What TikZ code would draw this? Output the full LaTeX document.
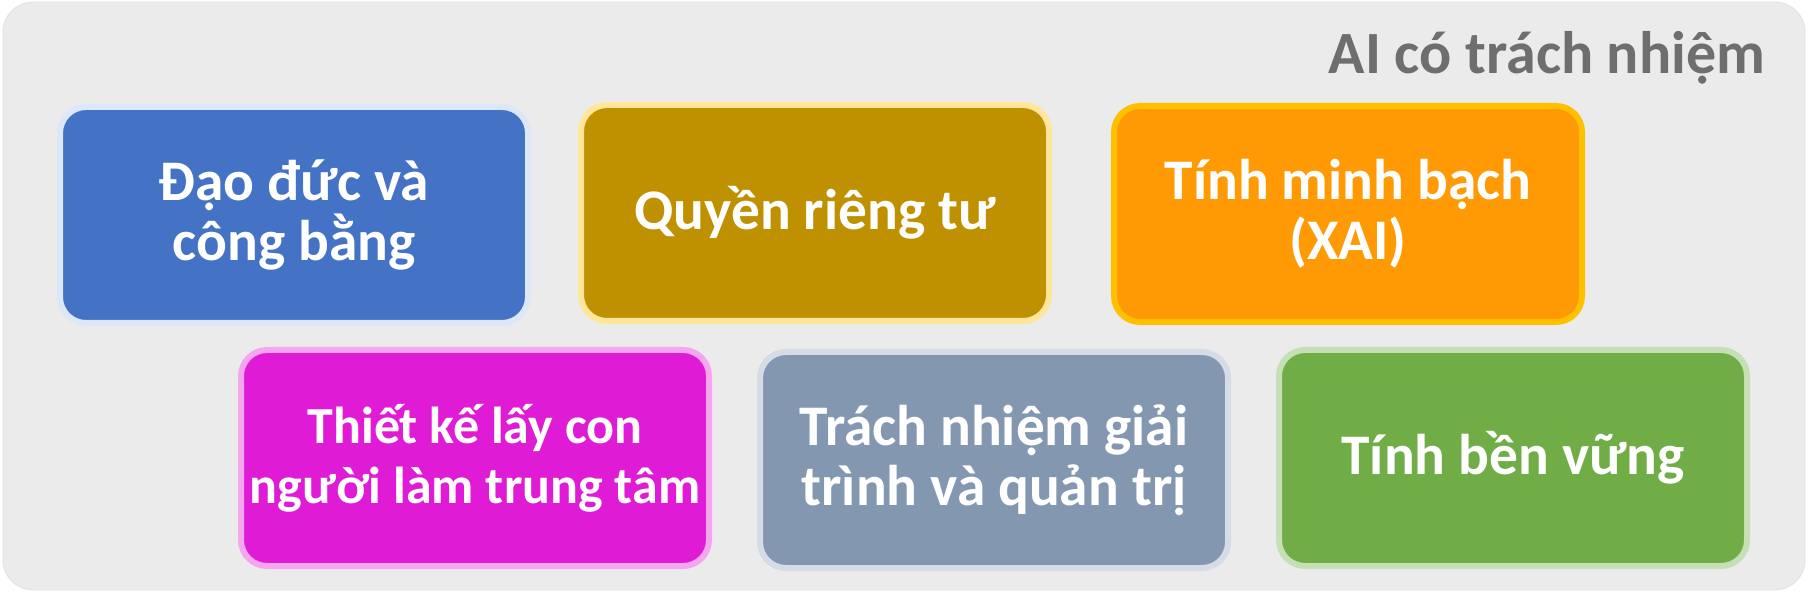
\documentclass[tikz,border=0pt]{standalone}
\usepackage{fontspec}
\setmainfont{Carlito}
\usepackage{xcolor}
\usepackage{tikz}

\definecolor{panelGray}{HTML}{EBEBEB}
\definecolor{panelEdge}{HTML}{E2E2E2}
\definecolor{titleGray}{HTML}{6E6E6E}
\definecolor{ethicsFill}{HTML}{4472C4}  \definecolor{ethicsEdge}{HTML}{DCE8F7}
\definecolor{privFill}{HTML}{BF9000}    \definecolor{privEdge}{HTML}{FFE699}
\definecolor{xaiFill}{HTML}{FF9A05}     \definecolor{xaiEdge}{HTML}{FFC000}
\definecolor{humanFill}{HTML}{E01BD6}   \definecolor{humanEdge}{HTML}{F6A6EF}
\definecolor{govFill}{HTML}{8497B0}     \definecolor{govEdge}{HTML}{D6DCE5}
\definecolor{sustFill}{HTML}{70AD47}    \definecolor{sustEdge}{HTML}{C5E0B4}

\tikzset{
	pillar/.style={rounded corners=13pt, line width=3pt, minimum width=234pt, minimum height=108pt,
		inner sep=0pt, align=center, text=white, font=\fontsize{28.7}{30}\selectfont\bfseries},
	pillar small/.style={pillar, font=\fontsize{26}{30}\selectfont\bfseries},
}

\begin{document}
\begin{tikzpicture}[x=1pt,y=-1pt]
	\useasboundingbox (0,0) rectangle (904,296);
	\fill[white] (0,0) rectangle (904,296);
	\filldraw[fill=panelGray, draw=panelEdge, rounded corners=15pt] (1.5,1) rectangle (902.5,295);

	\node[anchor=base east, text=titleGray, font=\fontsize{30}{34}\selectfont\bfseries] (title) at (886,37) {AI có trách nhiệm};

	\node[pillar, fill=ethicsFill, draw=ethicsEdge] (ethics)  at (147,107.5) {Đạo đức và\\công bằng};
	\node[pillar, fill=privFill,   draw=privEdge]   (privacy) at (407.5,106.5) {Quyền riêng tư};
	\node[pillar, fill=xaiFill,    draw=xaiEdge]    (xai)     at (674,107)   {Tính minh bạch\\(XAI)};

	\node[pillar small, fill=humanFill, draw=humanEdge] (human) at (237.5,229) {Thiết kế lấy con\\người làm trung tâm};
	\node[pillar, fill=govFill,    draw=govEdge]    (gov)     at (497,230)     {Trách nhiệm giải\\trình và quản trị};
	\node[pillar, fill=sustFill,   draw=sustEdge]   (sust)    at (756.5,229) {Tính bền vững};
\end{tikzpicture}
\end{document}
